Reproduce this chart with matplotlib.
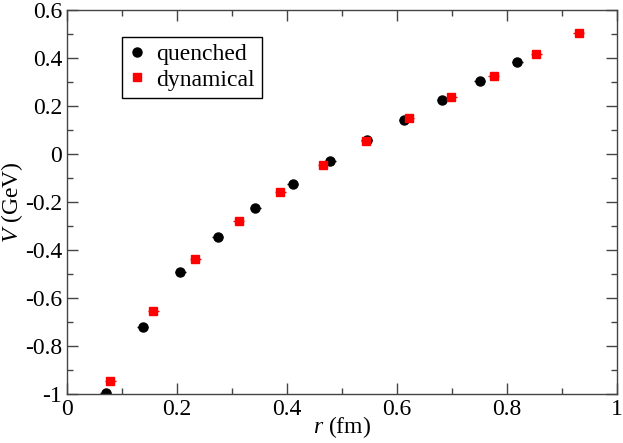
import matplotlib.pyplot as plt
from matplotlib.ticker import MultipleLocator, FuncFormatter

plt.rcParams['font.family'] = 'Liberation Serif'
plt.rcParams['mathtext.fontset'] = 'custom'
plt.rcParams['mathtext.rm'] = 'Liberation Serif'
plt.rcParams['mathtext.it'] = 'Liberation Serif:italic'

# quenched data
r_q = [0.070, 0.138, 0.206, 0.274, 0.342, 0.410, 0.479, 0.545, 0.613, 0.682, 0.750, 0.819]
V_q = [-0.995, -0.721, -0.493, -0.345, -0.225, -0.124, -0.030, 0.057, 0.142, 0.226, 0.305, 0.385]
dr_q = [0.010] * len(r_q)

# dynamical data
r_d = [0.079, 0.157, 0.233, 0.312, 0.388, 0.466, 0.544, 0.621, 0.699, 0.776, 0.853, 0.930]
V_d = [-0.947, -0.654, -0.438, -0.280, -0.157, -0.046, 0.055, 0.149, 0.239, 0.326, 0.415, 0.505]
dr_d = [0.010] * len(r_d)

fig = plt.figure(figsize=(6.23, 4.43), dpi=100)
ax = fig.add_axes([67/623, 1-394/443, 550/623, 384/443])

# error bars first, markers on top (legend shows markers only)
ax.errorbar(r_q, V_q, xerr=dr_q, fmt='none', ecolor='black', elinewidth=1, capsize=0)
ax.errorbar(r_d, V_d, xerr=dr_d, fmt='none', ecolor='red', elinewidth=1, capsize=0)
ax.plot(r_q, V_q, 'o', color='black', ms=6.5, label='quenched')
ax.plot(r_d, V_d, 's', color='red', ms=5.5, label='dynamical')

ax.set_xlim(0, 1)
ax.set_ylim(-1, 0.6)
ax.xaxis.set_major_locator(MultipleLocator(0.2))
ax.xaxis.set_minor_locator(MultipleLocator(0.1))
ax.yaxis.set_major_locator(MultipleLocator(0.2))
ax.yaxis.set_minor_locator(MultipleLocator(0.1))

def fmt(v, pos):
    return '%g' % round(v, 2)
ax.xaxis.set_major_formatter(FuncFormatter(fmt))
ax.yaxis.set_major_formatter(FuncFormatter(fmt))

ax.tick_params(which='both', direction='in', top=True, right=True, color='#444444', labelsize=17)
ax.tick_params(which='major', length=8, width=1)
ax.tick_params(which='minor', length=4, width=1)
for sp in ax.spines.values():
    sp.set_color('#444444')
    sp.set_linewidth(1)

ax.set_xlabel('$r$ (fm)', fontsize=17, labelpad=-4)
ax.set_ylabel('$V$ (GeV)', fontsize=17, labelpad=0)

leg = ax.legend(loc='upper left', bbox_to_anchor=(0.1, 0.93), fontsize=17, frameon=True, fancybox=False,
                edgecolor='black', framealpha=1, handletextpad=0.45, borderpad=0.3, labelspacing=0.15,
                handlelength=0.7, borderaxespad=0)
leg.get_frame().set_linewidth(1)

plt.savefig('out.png', dpi=100)
